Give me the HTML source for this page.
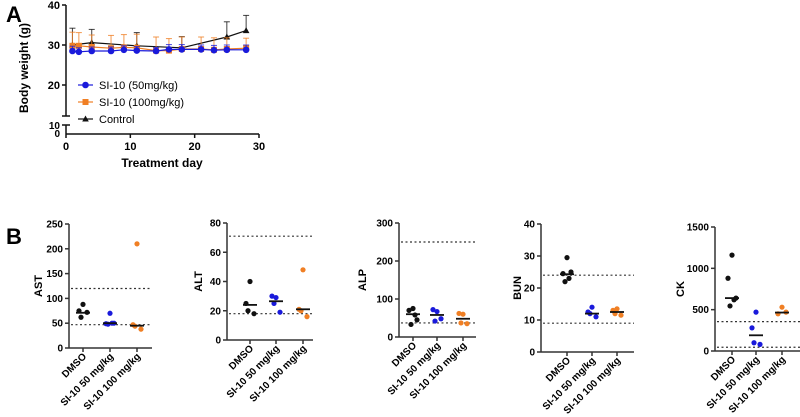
<!DOCTYPE html>
<html><head><meta charset="utf-8"><style>
html,body{margin:0;padding:0;background:#fff;}
svg{display:block;font-family:"Liberation Sans",Arial,sans-serif;}
</style></head><body>
<svg id="fig" width="800" height="417" viewBox="0 0 800 417">
<text x="6" y="22" font-size="22" font-weight="bold">A</text>
<text x="6" y="244" font-size="22" font-weight="bold">B</text>
<g id="pa"></g>
<g id="pb"></g>
</svg>
<script>
const days50 = [1,2,4,7,9,11,14,16,18,21,23,25,28];
const vals50 = [28.5,28.3,28.5,28.5,28.8,28.6,28.5,28.9,28.9,28.9,28.7,28.8,28.8];
const err50 = [1.2,1.0,1.0,1.0,1.0,1.0,0.9,1.2,1.2,1.1,1.2,1.2,1.2];
const days100 = [1,2,4,7,9,11,14,16,18,21,23,25,28];
const vals100 = [29.8,29.8,29.5,29.2,29.4,29.3,28.6,28.6,29.0,29.0,28.8,29.0,29.2];
const err100 = [3.4,3.3,3.0,3.2,3.2,3.4,3.4,3.0,3.0,3.0,3.0,2.8,2.5];
const daysCtl = [1,4,11,18,25,28];
const valsCtl = [30.0,30.6,29.8,29.3,32.0,33.6];
const errCtl = [4.2,3.3,3.3,2.8,3.8,3.8];
const xTicksA = [0,10,20,30];
const yTicksA = [20,30,40];

const astVals = [[88,75,72,62],[70,49,50,48,50],[210,47,38,44]];
const altVals = [[40,25,18,20],[29,30,19,25],[48,21,16,20]];
const alpVals = [[75,70,45,33,58],[67,72,48,42],[60,62,35,37]];
const bunVals = [[29.5,24.5,25,22,23],[14,12.5,11,12],[13.5,13,11.5,12]];
const ckVals = [[1160,880,640,545,620],[470,280,80,100],[530,450,470]];
const medians = {AST:[71,50,45],ALT:[24,26.5,21],ALP:[60,58,48],BUN:[24.3,12,12.5],CK:[640,190,465]};
const refs = {AST:[120,47],ALT:[71,18],ALP:[250,37],BUN:[24,9],CK:[355,45]};
const groups = ["DMSO","SI-10 50 mg/kg","SI-10 100 mg/kg"];

const NS="http://www.w3.org/2000/svg";
function mk(p,t,a){const e=document.createElementNS(NS,t);for(const k in a)e.setAttribute(k,a[k]);p.appendChild(e);return e;}
const BLUE="#1a1adb",ORANGE="#f07f24",BLACK="#111";

const pa=document.getElementById('pa');
const xA=d=>66+d*(259-66)/30;
const yA=v=>v>=15?45-(v-30)*4.0:134-v*0.8;
let ln=mk(pa,'line',{x1:66,y1:5,x2:66,y2:116,stroke:BLACK,'stroke-width':1.5});

ln=mk(pa,'line',{x1:66,y1:125,x2:66,y2:134,stroke:BLACK,'stroke-width':1.5});

ln=mk(pa,'line',{x1:66,y1:134,x2:259,y2:134,stroke:BLACK,'stroke-width':1.5});

mk(pa,'line',{x1:62,y1:116,x2:70,y2:116,stroke:BLACK,'stroke-width':1.5});
mk(pa,'line',{x1:62,y1:125,x2:70,y2:125,stroke:BLACK,'stroke-width':1.5});
yTicksA.forEach(v=>{mk(pa,'line',{x1:62,y1:yA(v),x2:66,y2:yA(v),stroke:BLACK,'stroke-width':1.5});
 const t=mk(pa,'text',{x:60,y:yA(v)+4,'font-size':11,'font-weight':'bold','text-anchor':'end'});t.textContent=v;
 });
[[10,126],[0,134]].forEach(([v,y])=>{const t=mk(pa,'text',{x:60,y:y+3,'font-size':10,'font-weight':'bold','text-anchor':'end'});t.textContent=v;
 });
xTicksA.forEach(v=>{mk(pa,'line',{x1:xA(v),y1:134,x2:xA(v),y2:138,stroke:BLACK,'stroke-width':1.5});
 const t=mk(pa,'text',{x:xA(v),y:150,'font-size':11,'font-weight':'bold','text-anchor':'middle'});t.textContent=v;
 });
let tt=mk(pa,'text',{x:162,y:167,'font-size':12,'font-weight':'bold','text-anchor':'middle'});tt.textContent='Treatment day';

tt=mk(pa,'text',{x:0,y:0,'font-size':12,'font-weight':'bold','text-anchor':'middle',transform:'translate(28,68) rotate(-90)'});tt.textContent='Body weight (g)';


function series(days,vals,errs,col,shape,name){
 const g=mk(pa,'g',{});
 days.forEach((d,i)=>{const x=xA(d),y=yA(vals[i]),ye=yA(vals[i]+errs[i]);
  mk(g,'line',{x1:x,y1:y,x2:x,y2:ye,stroke:col,'stroke-width':1,opacity:0.8});
  mk(g,'line',{x1:x-3,y1:ye,x2:x+3,y2:ye,stroke:col,'stroke-width':1,opacity:0.8});});
 mk(g,'polyline',{points:days.map((d,i)=>xA(d)+','+yA(vals[i])).join(' '),fill:'none',stroke:col,'stroke-width':1.2});
 days.forEach((d,i)=>{const x=xA(d),y=yA(vals[i]);let m;
  if(shape==='c')m=mk(g,'circle',{cx:x,cy:y,r:3.3,fill:col});
  else if(shape==='s')m=mk(g,'rect',{x:x-3,y:y-3,width:6,height:6,fill:col});
  else m=mk(g,'polygon',{points:`${x},${y-3.5} ${x-3.3},${y+2.5} ${x+3.3},${y+2.5}`,fill:col});
  });
}
series(daysCtl,valsCtl,errCtl,BLACK,'t','series-control');
series(days100,vals100,err100,ORANGE,'s','series-100mg');
series(days50,vals50,err50,BLUE,'c','series-50mg');
const leg=[["SI-10 (50mg/kg)",BLUE,'c',85],["SI-10 (100mg/kg)",ORANGE,'s',102],["Control",BLACK,'t',119]];
leg.forEach(([lab,col,sh,y])=>{const g=mk(pa,'g',{});
 mk(g,'line',{x1:78,y1:y,x2:93,y2:y,stroke:col,'stroke-width':1.2});const x=85.5;
 if(sh==='c')mk(g,'circle',{cx:x,cy:y,r:3.3,fill:col});else if(sh==='s')mk(g,'rect',{x:x-3,y:y-3,width:6,height:6,fill:col});
 else mk(g,'polygon',{points:`${x},${y-3.5} ${x-3.3},${y+2.5} ${x+3.3},${y+2.5}`,fill:col});
 const t=mk(g,'text',{x:99,y:y+4,'font-size':11});t.textContent=lab;});

const pb=document.getElementById('pb');
const panels=[
 {name:'AST',vals:astVals,ax:69,top:224,bot:348,max:250,ticks:[0,50,100,150,200,250],end:152,cx:[83,110,137],lx:38},
 {name:'ALT',vals:altVals,ax:227,top:223,bot:340,max:80,ticks:[0,20,40,60,80],end:313,cx:[250,276,303],lx:198},
 {name:'ALP',vals:alpVals,ax:399,top:223,bot:337,max:300,ticks:[0,100,200,300],end:476,cx:[413,437,463],lx:362},
 {name:'BUN',vals:bunVals,ax:541,top:224,bot:352,max:40,ticks:[0,10,20,30,40],end:634,cx:[567,592,617],lx:517},
 {name:'CK',vals:ckVals,ax:715,top:227,bot:351,max:1500,ticks:[0,500,1000,1500],end:800,cx:[732,756,782],lx:680}];
const cols=[BLACK,BLUE,ORANGE];
const jit=[0,-4,4,-2,2];
panels.forEach(P=>{
 const g=mk(pb,'g',{});
 const y=v=>P.bot-v/P.max*(P.bot-P.top);
 mk(g,'line',{x1:P.ax,y1:P.top,x2:P.ax,y2:P.bot,stroke:'#333','stroke-width':1.5});
 mk(g,'line',{x1:P.ax,y1:P.bot,x2:P.end,y2:P.bot,stroke:'#333','stroke-width':1.5});
 P.ticks.forEach(v=>{mk(g,'line',{x1:P.ax-4,y1:y(v),x2:P.ax,y2:y(v),stroke:'#333','stroke-width':1.5});
  const t=mk(g,'text',{x:P.ax-6,y:y(v)+3.5,'font-size':10,'font-weight':'bold','text-anchor':'end'});t.textContent=v;
  });
 const yl=mk(g,'text',{x:0,y:0,'font-size':11,'font-weight':'bold','text-anchor':'middle',transform:`translate(${P.lx+4},${(P.top+P.bot)/2}) rotate(-90)`});
 yl.textContent=P.name;
 refs[P.name].forEach(r=>{const l=mk(g,'line',{x1:P.ax+2,y1:y(r),x2:P.end,y2:y(r),stroke:'#333','stroke-width':1.2,'stroke-dasharray':'2,2.5'});
  });
 P.cx.forEach((cx,i)=>{
  mk(g,'line',{x1:cx,y1:P.bot,x2:cx,y2:P.bot+4,stroke:'#333','stroke-width':1.5});
  P.vals[i].forEach((v,j)=>{const c=mk(g,'circle',{cx:cx+jit[j%5],cy:y(v),r:2.6,fill:cols[i]});
   });
  const m=medians[P.name][i];const ml=mk(g,'line',{x1:cx-7,y1:y(m),x2:cx+7,y2:y(m),stroke:'#111','stroke-width':1.8});
  
  const t=mk(g,'text',{x:0,y:0,'font-size':10,'font-weight':'bold','text-anchor':'end',transform:`translate(${cx+4},${P.bot+9}) rotate(-45)`});
  t.textContent=groups[i];});
});
</script>
</body></html>
